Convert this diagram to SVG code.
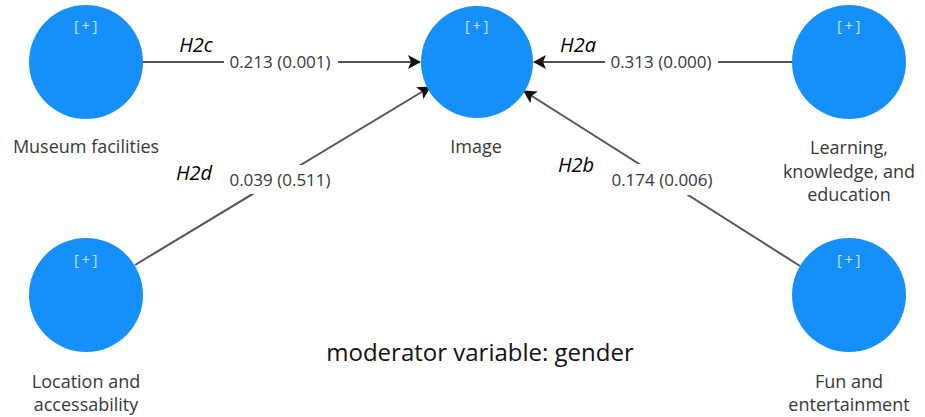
<svg xmlns="http://www.w3.org/2000/svg" width="925" height="417" viewBox="0 0 925 417">
  <style>
    .node { fill: #1590fb; }
    .plus { font-family: "Open Sans", "Noto Sans", sans-serif; font-size: 15px; fill: #c8e2ff; text-anchor: middle; letter-spacing: 2.5px; }
    .lbl { font-family: "Open Sans", "Noto Sans", sans-serif; font-size: 18px; fill: #383838; text-anchor: middle; }
    .edge { stroke: #555555; stroke-width: 2; fill: none; }
    .elbl { font-family: "Open Sans", "Noto Sans", sans-serif; font-size: 17px; fill: #383838; text-anchor: middle; }
    .hyp { font-family: "Open Sans", "Noto Sans", sans-serif; font-size: 20px; font-style: italic; fill: #000000; text-anchor: middle; }
    .bg { fill: #ffffff; }
    .mod { font-family: "Open Sans", "Noto Sans", sans-serif; font-size: 24px; fill: #111111; text-anchor: middle; }
  </style>
  <defs>
    <marker id="arrow" markerUnits="userSpaceOnUse" markerWidth="13" markerHeight="14" viewBox="0 0 13 14" refX="12" refY="7" orient="auto">
      <path d="M0,0 L13,7 L0,14 L3,7 z" fill="#111111"/>
    </marker>
  </defs>
  <rect width="925" height="417" fill="#ffffff"/>

  <g id="connectors">
    <line class="edge" x1="143" y1="62" x2="420" y2="62" marker-end="url(#arrow)"/>
    <line class="edge" x1="792" y1="62" x2="534" y2="62" marker-end="url(#arrow)"/>
    <line class="edge" x1="135" y1="265" x2="430" y2="87" marker-end="url(#arrow)"/>
    <line class="edge" x1="800" y1="266" x2="524" y2="91" marker-end="url(#arrow)"/>
    <rect class="bg" x="224" y="51" width="114" height="22"/>
    <rect class="bg" x="605" y="51" width="113" height="22"/>
    <rect class="bg" x="224" y="165" width="111" height="29"/>
    <rect class="bg" x="606" y="164" width="111" height="31"/>
    <text class="elbl" x="280" y="68">0.213 (0.001)</text>
    <text class="elbl" x="661" y="68">0.313 (0.000)</text>
    <text class="elbl" x="280" y="186">0.039 (0.511)</text>
    <text class="elbl" x="662" y="186">0.174 (0.006)</text>
    <text class="hyp" x="196" y="52">H2c</text>
    <text class="hyp" x="578" y="52">H2a</text>
    <text class="hyp" x="194" y="180">H2d</text>
    <text class="hyp" x="576" y="172">H2b</text>
  </g>

  <g id="museum">
    <circle class="node" cx="86" cy="62" r="57"/>
    <text class="plus" x="87" y="31">[+]</text>
    <text class="lbl" x="86" y="153">Museum facilities</text>
  </g>
  <g id="image">
    <circle class="node" cx="477" cy="62" r="56"/>
    <text class="plus" x="478" y="31">[+]</text>
    <text class="lbl" x="476" y="153">Image</text>
  </g>
  <g id="learning">
    <circle class="node" cx="849" cy="62" r="57"/>
    <text class="plus" x="850" y="31">[+]</text>
    <text class="lbl" x="849" y="154">Learning,</text>
    <text class="lbl" x="849" y="178">knowledge, and</text>
    <text class="lbl" x="849" y="201">education</text>
  </g>
  <g id="location">
    <circle class="node" cx="86" cy="295" r="57"/>
    <text class="plus" x="87" y="265">[+]</text>
    <text class="lbl" x="86" y="388">Location and</text>
    <text class="lbl" x="86" y="411">accessability</text>
  </g>
  <g id="fun">
    <circle class="node" cx="849" cy="295" r="57"/>
    <text class="plus" x="850" y="265">[+]</text>
    <text class="lbl" x="849" y="388">Fun and</text>
    <text class="lbl" x="849" y="411">entertainment</text>
  </g>

  <text class="mod" x="480" y="361">moderator variable: gender</text>
</svg>
